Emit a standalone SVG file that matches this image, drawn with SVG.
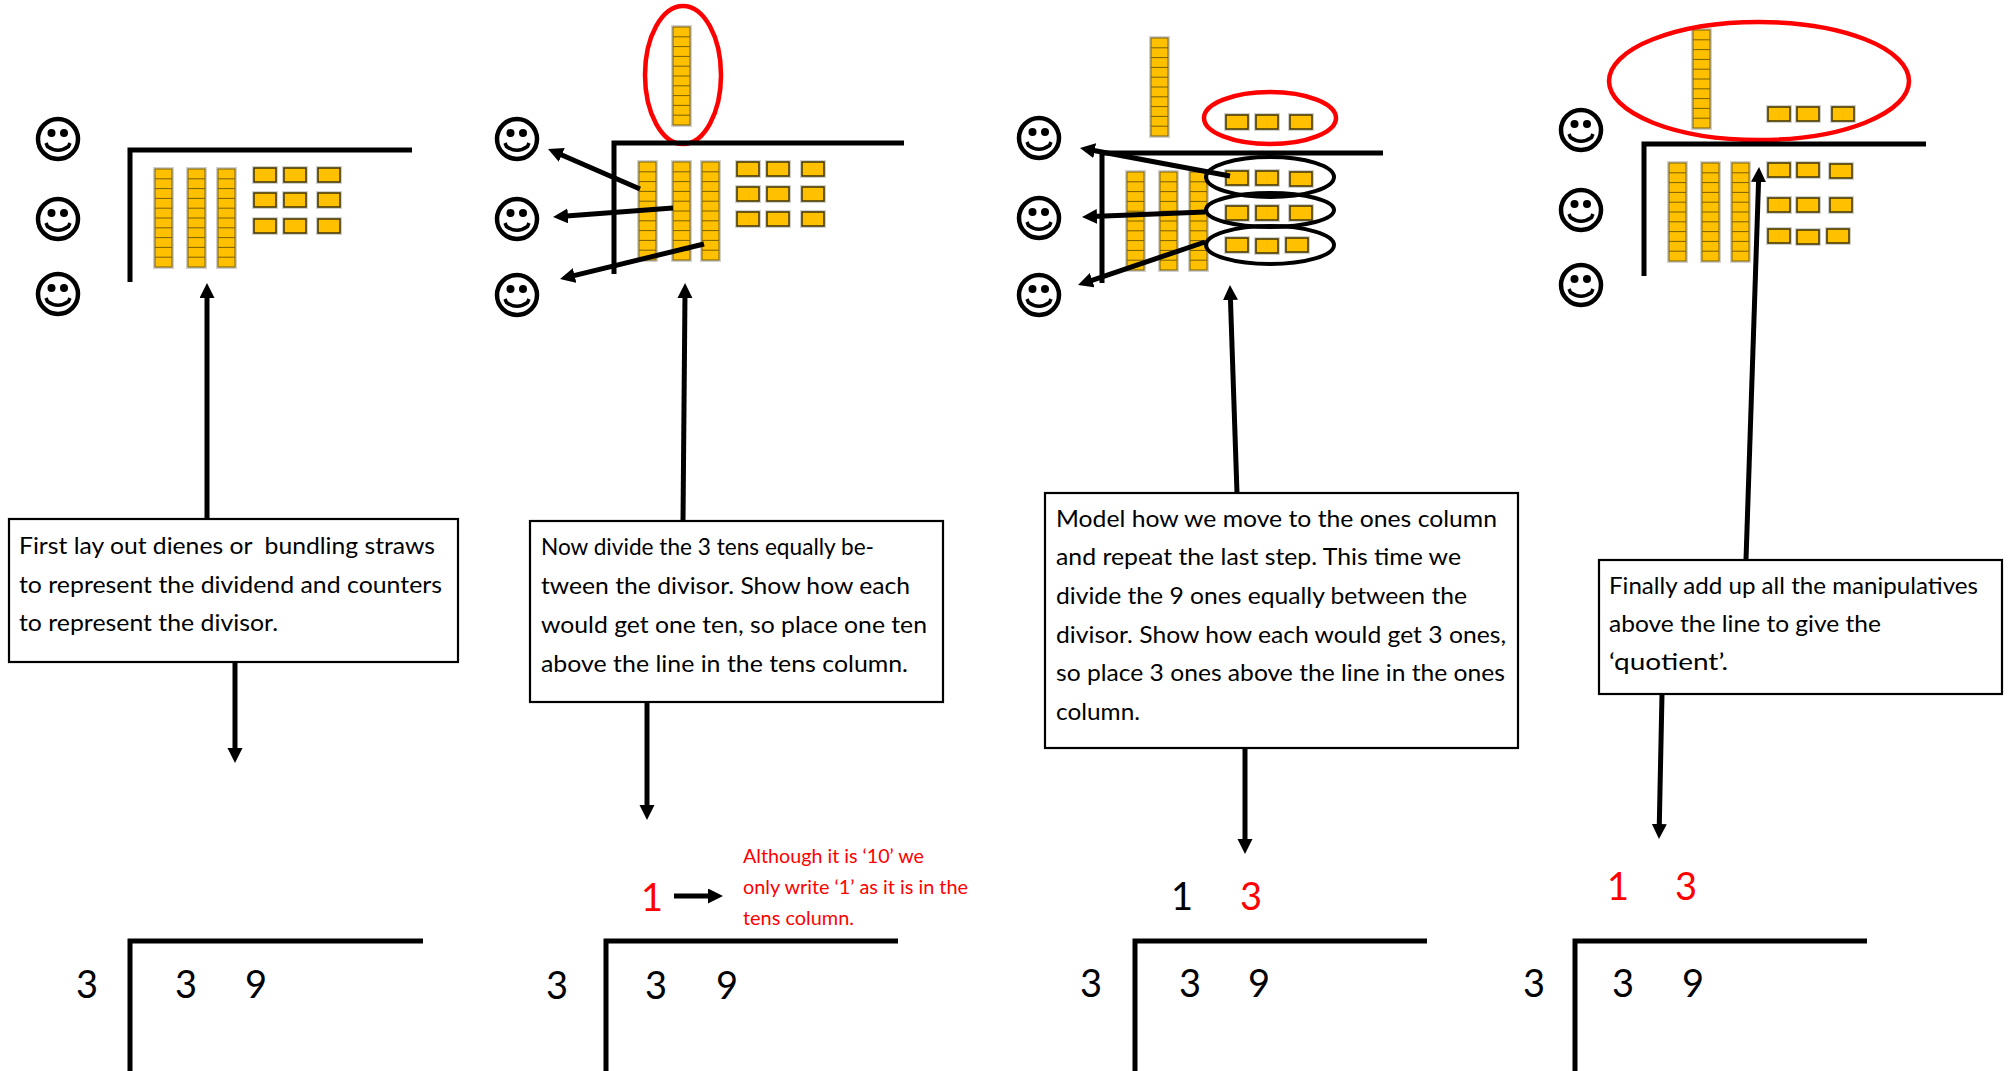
<svg xmlns="http://www.w3.org/2000/svg" xmlns:xlink="http://www.w3.org/1999/xlink" width="2009" height="1071" viewBox="0 0 2009 1071">
  <style>
    .bar { stroke: #000; stroke-width: 5; fill: none; stroke-linecap: butt; }
    .box { fill: #fff; stroke: #000; stroke-width: 2.2; }
    .note { font-family: Lato, "Liberation Sans", sans-serif; font-size: 24px; fill: #000; white-space: pre; }
    .red-note { font-family: Lato, "Liberation Sans", sans-serif; font-size: 19.5px; fill: #ff0000; }
    .digit { font-family: Lato, "Liberation Sans", sans-serif; font-size: 38px; fill: #000; text-anchor: middle; }
    .red { fill: #ff0000; }
    .arrow { stroke: #000; stroke-width: 5; fill: none; marker-end: url(#head); }
    .ring-red { fill: none; stroke: #ff0000; stroke-width: 4.5; }
    .ring-black { fill: none; stroke: #000; stroke-width: 4; }
  </style>
  <defs>
    <marker id="head" markerUnits="userSpaceOnUse" markerWidth="16" markerHeight="16" refX="5" refY="7.5" orient="auto">
      <path d="M0,0 L15,7.5 L0,15 z" fill="#000"/>
    </marker>
    <!-- smiling face used for the divisor counters -->
    <g id="smiley">
      <circle r="20" fill="none" stroke="#000" stroke-width="4.5"/>
      <circle cx="-6.5" cy="-6" r="4" fill="#000"/>
      <circle cx="6" cy="-6" r="4" fill="#000"/>
      <path d="M-12,4 L-10.5,7.5 Q0,15 10.5,7.5 L12,4" fill="none" stroke="#000" stroke-width="3.5"/>
    </g>
    <!-- dienes ten rod: ten stacked cubes -->
    <g id="rod">
      <rect x="-1" y="-1" width="19" height="100" fill="none" stroke="#d0d0d0" stroke-width="2"/>
      <rect x="0" y="0" width="17" height="98" fill="#ffc000" stroke="#7a6000" stroke-width="1"/>
      <path d="M0,9.8H17M0,19.6H17M0,29.4H17M0,39.2H17M0,49H17M0,58.8H17M0,68.6H17M0,78.4H17M0,88.2H17" stroke="#7a6000" stroke-width="1"/>
    </g>
    <!-- single unit cube -->
    <g id="one">
      <rect x="-1" y="-1" width="24" height="16" fill="none" stroke="#d0d0d0" stroke-width="2"/>
      <rect x="0" y="0" width="22" height="14" fill="#ffc000" stroke="#4a3c00" stroke-width="1.6"/>
    </g>
  </defs>

  <rect width="2009" height="1071" fill="#fff"/>

  <!-- Step 1: lay out the dividend -->
  <g id="step1-model">
    <use href="#smiley" x="58" y="139"/>
    <use href="#smiley" x="58" y="219"/>
    <use href="#smiley" x="58" y="294"/>
    <path class="bar" d="M130,282 V150 H412"/>
    <use href="#rod" x="155" y="169"/>
    <use href="#rod" x="188" y="169"/>
    <use href="#rod" x="218" y="169"/>
    <use href="#one" x="254" y="168"/><use href="#one" x="284" y="168"/><use href="#one" x="318" y="168"/>
    <use href="#one" x="254" y="193"/><use href="#one" x="284" y="193"/><use href="#one" x="318" y="193"/>
    <use href="#one" x="254" y="219"/><use href="#one" x="284" y="219"/><use href="#one" x="318" y="219"/>
  </g>
  <g id="step1-note">
    <rect class="box" x="9" y="519" width="449" height="143"/>
    <text class="note" x="19" y="554" textLength="416" lengthAdjust="spacingAndGlyphs">First lay out dienes or  bundling straws</text>
    <text class="note" x="19" y="593" textLength="423" lengthAdjust="spacingAndGlyphs">to represent the dividend and counters</text>
    <text class="note" x="19" y="631" textLength="259" lengthAdjust="spacingAndGlyphs">to represent the divisor.</text>
  </g>
  <g id="step1-sum">
    <path class="bar" d="M130,1071 V941 H423"/>
    <text class="digit" x="87" y="998">3</text>
    <text class="digit" x="186" y="998">3</text>
    <text class="digit" x="256" y="998">9</text>
  </g>

  <!-- Step 2: share the tens -->
  <g id="step2-model">
    <use href="#smiley" x="517" y="139"/>
    <use href="#smiley" x="517" y="219"/>
    <use href="#smiley" x="517" y="295"/>
    <use href="#rod" x="673" y="27"/>
    <ellipse class="ring-red" cx="683" cy="75" rx="38" ry="69"/>
    <path class="bar" d="M614,274 V143 H904"/>
    <use href="#rod" x="639" y="162"/>
    <use href="#rod" x="673" y="162"/>
    <use href="#rod" x="702" y="162"/>
    <use href="#one" x="737" y="162"/><use href="#one" x="767" y="162"/><use href="#one" x="802" y="162"/>
    <use href="#one" x="737" y="187"/><use href="#one" x="767" y="187"/><use href="#one" x="802" y="187"/>
    <use href="#one" x="737" y="212"/><use href="#one" x="767" y="212"/><use href="#one" x="802" y="212"/>
  </g>
  <g id="step2-note">
    <rect class="box" x="530" y="521" width="413" height="181"/>
    <text class="note" x="541" y="555" textLength="333" lengthAdjust="spacingAndGlyphs">Now divide the 3 tens equally be-</text>
    <text class="note" x="541" y="594" textLength="369" lengthAdjust="spacingAndGlyphs">tween the divisor. Show how each</text>
    <text class="note" x="541" y="633" textLength="386" lengthAdjust="spacingAndGlyphs">would get one ten, so place one ten</text>
    <text class="note" x="541" y="672" textLength="367" lengthAdjust="spacingAndGlyphs">above the line in the tens column.</text>
  </g>
  <g id="step2-sum">
    <path class="bar" d="M606,1071 V941 H898"/>
    <text class="digit red" x="652" y="911">1</text>
    <text class="red-note" x="743" y="863" textLength="181" lengthAdjust="spacingAndGlyphs">Although it is ‘10’ we</text>
    <text class="red-note" x="743" y="894" textLength="225" lengthAdjust="spacingAndGlyphs">only write ‘1’ as it is in the</text>
    <text class="red-note" x="743" y="925" textLength="111" lengthAdjust="spacingAndGlyphs">tens column.</text>
    <text class="digit" x="557" y="999">3</text>
    <text class="digit" x="656" y="999">3</text>
    <text class="digit" x="727" y="999">9</text>
  </g>

  <!-- Step 3: share the ones -->
  <g id="step3-model">
    <use href="#smiley" x="1039" y="138"/>
    <use href="#smiley" x="1039" y="218"/>
    <use href="#smiley" x="1039" y="295"/>
    <use href="#rod" x="1151" y="38"/>
    <use href="#one" x="1226" y="115"/><use href="#one" x="1256" y="115"/><use href="#one" x="1290" y="115"/>
    <ellipse class="ring-red" cx="1270" cy="118" rx="66" ry="26"/>
    <path class="bar" d="M1102,283 V153 H1383"/>
    <use href="#rod" x="1127" y="172"/>
    <use href="#rod" x="1160" y="172"/>
    <use href="#rod" x="1190" y="172"/>
    <use href="#one" x="1226" y="171"/><use href="#one" x="1256" y="171"/><use href="#one" x="1290" y="172"/>
    <use href="#one" x="1226" y="206"/><use href="#one" x="1256" y="206"/><use href="#one" x="1290" y="206"/>
    <use href="#one" x="1226" y="238"/><use href="#one" x="1256" y="239"/><use href="#one" x="1286" y="238"/>
    <ellipse class="ring-black" cx="1270" cy="177" rx="64" ry="20"/>
    <ellipse class="ring-black" cx="1270" cy="210" rx="64" ry="17"/>
    <ellipse class="ring-black" cx="1270" cy="245" rx="64" ry="19"/>
  </g>
  <g id="step3-note">
    <rect class="box" x="1045" y="493" width="473" height="255"/>
    <text class="note" x="1056" y="527" textLength="441" lengthAdjust="spacingAndGlyphs">Model how we move to the ones column</text>
    <text class="note" x="1056" y="565" textLength="405" lengthAdjust="spacingAndGlyphs">and repeat the last step. This time we</text>
    <text class="note" x="1056" y="604" textLength="411" lengthAdjust="spacingAndGlyphs">divide the 9 ones equally between the</text>
    <text class="note" x="1056" y="643" textLength="450" lengthAdjust="spacingAndGlyphs">divisor. Show how each would get 3 ones,</text>
    <text class="note" x="1056" y="681" textLength="449" lengthAdjust="spacingAndGlyphs">so place 3 ones above the line in the ones</text>
    <text class="note" x="1056" y="720" textLength="84" lengthAdjust="spacingAndGlyphs">column.</text>
  </g>
  <g id="step3-sum">
    <path class="bar" d="M1135,1071 V941 H1427"/>
    <text class="digit" x="1182" y="910">1</text>
    <text class="digit red" x="1251" y="910">3</text>
    <text class="digit" x="1091" y="997">3</text>
    <text class="digit" x="1190" y="997">3</text>
    <text class="digit" x="1259" y="997">9</text>
  </g>

  <!-- Step 4: read the quotient -->
  <g id="step4-model">
    <use href="#smiley" x="1581" y="130"/>
    <use href="#smiley" x="1581" y="210"/>
    <use href="#smiley" x="1581" y="285"/>
    <use href="#rod" x="1693" y="30"/>
    <use href="#one" x="1768" y="107"/><use href="#one" x="1797" y="107"/><use href="#one" x="1832" y="107"/>
    <ellipse class="ring-red" cx="1759" cy="81" rx="150" ry="59"/>
    <path class="bar" d="M1644,276 V144 H1926"/>
    <use href="#rod" x="1669" y="163"/>
    <use href="#rod" x="1702" y="163"/>
    <use href="#rod" x="1732" y="163"/>
    <use href="#one" x="1768" y="163"/><use href="#one" x="1797" y="163"/><use href="#one" x="1830" y="164"/>
    <use href="#one" x="1768" y="198"/><use href="#one" x="1797" y="198"/><use href="#one" x="1830" y="198"/>
    <use href="#one" x="1768" y="229"/><use href="#one" x="1797" y="230"/><use href="#one" x="1827" y="229"/>
  </g>
  <g id="step4-note">
    <rect class="box" x="1599" y="560" width="403" height="134"/>
    <text class="note" x="1609" y="594" textLength="369" lengthAdjust="spacingAndGlyphs">Finally add up all the manipulatives</text>
    <text class="note" x="1609" y="632" textLength="272" lengthAdjust="spacingAndGlyphs">above the line to give the</text>
    <text class="note" x="1609" y="670" textLength="119" lengthAdjust="spacingAndGlyphs">‘quotient’.</text>
  </g>
  <g id="step4-sum">
    <path class="bar" d="M1575,1071 V941 H1867"/>
    <text class="digit red" x="1618" y="900">1</text>
    <text class="digit red" x="1686" y="900">3</text>
    <text class="digit" x="1534" y="997">3</text>
    <text class="digit" x="1623" y="997">3</text>
    <text class="digit" x="1693" y="997">9</text>
  </g>

  <!-- connectors -->
  <g id="connectors">
    <line class="arrow" x1="207" y1="518" x2="207" y2="293"/>
    <line class="arrow" x1="235" y1="662" x2="235" y2="753"/>

    <line class="arrow" x1="640" y1="189" x2="557.2" y2="153"/>
    <line class="arrow" x1="673" y1="208" x2="563" y2="216.3"/>
    <line class="arrow" x1="704" y1="244" x2="569.7" y2="276.6"/>
    <line class="arrow" x1="683" y1="521" x2="685" y2="293"/>
    <line class="arrow" x1="647" y1="702" x2="647" y2="810"/>
    <line class="arrow" x1="674" y1="896" x2="713" y2="896"/>

    <line class="arrow" x1="1230" y1="176" x2="1089.8" y2="149.8"/>
    <line class="arrow" x1="1205" y1="212" x2="1092" y2="216.6"/>
    <line class="arrow" x1="1205" y1="242" x2="1087.5" y2="281.8"/>
    <line class="arrow" x1="1237" y1="493" x2="1230.3" y2="295"/>
    <line class="arrow" x1="1245" y1="748" x2="1245" y2="844"/>

    <line class="arrow" x1="1746" y1="560" x2="1758.7" y2="177"/>
    <line class="arrow" x1="1662" y1="694" x2="1659.2" y2="829"/>
  </g>
</svg>
